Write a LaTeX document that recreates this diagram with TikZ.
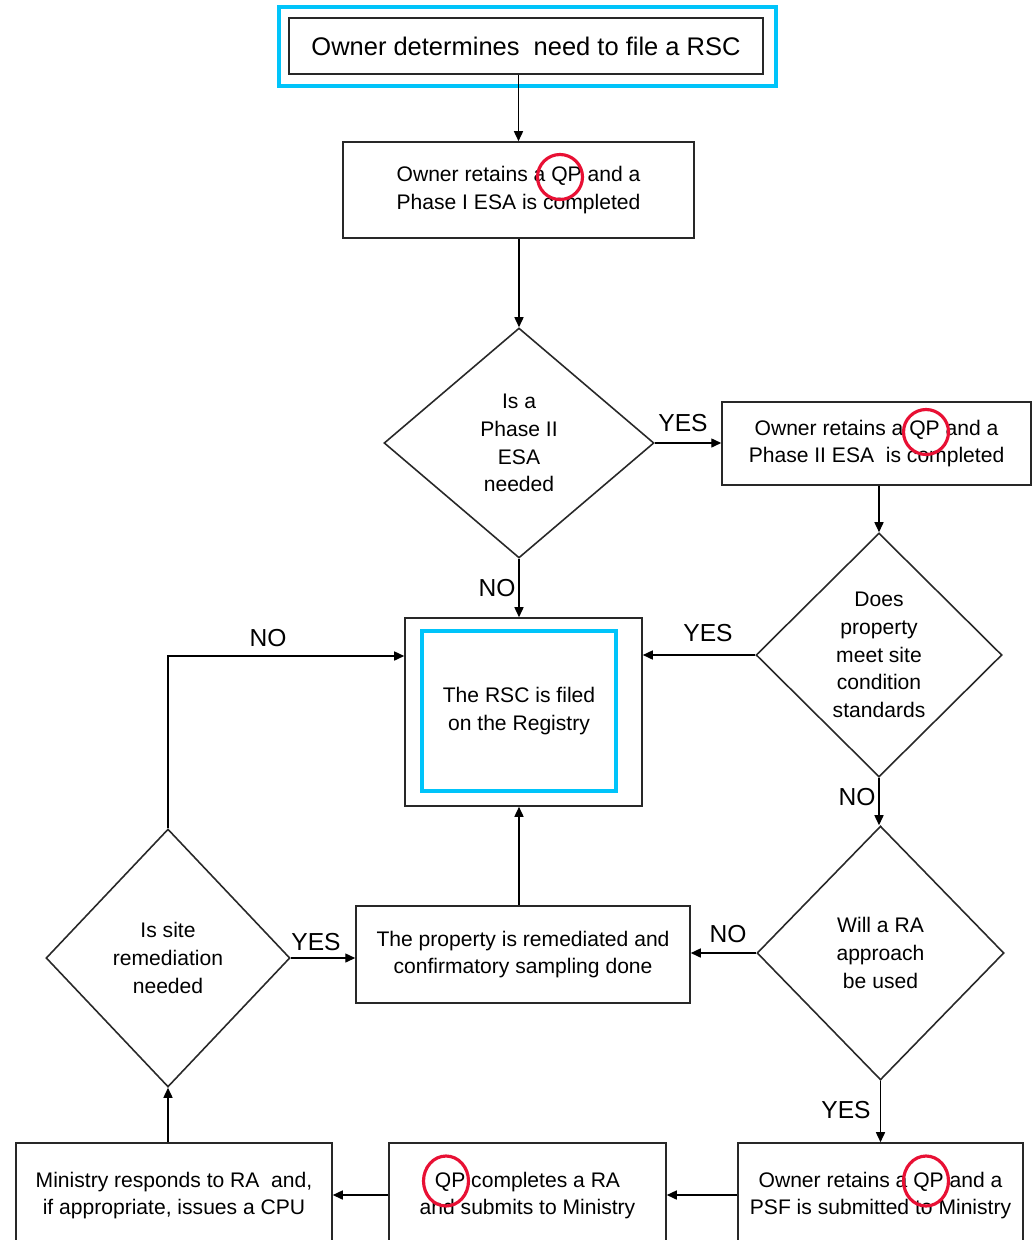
\documentclass[tikz,border=0pt]{standalone}
\usepackage{fontspec}
\setmainfont{Liberation Sans}
\usetikzlibrary{arrows.meta,shapes.geometric}
\definecolor{hlcyan}{RGB}{0,196,250}
\definecolor{hlred}{RGB}{232,16,52}
\definecolor{boxgray}{RGB}{40,40,40}
\begin{document}
\begin{tikzpicture}[x=0.02cm,y=-0.02cm,
  boxnode/.style={draw=boxgray,line width=0.9pt,rectangle,align=center,inner sep=0pt,
     font=\fontsize{12}{15.8}\selectfont},
  decnode/.style={draw=boxgray,line width=0.9pt,diamond,align=center,inner sep=0pt,
     font=\fontsize{12}{15.8}\selectfont},
  hlframe/.style={draw=hlcyan,line width=1.8pt,rectangle,inner sep=0pt},
  qpmark/.style={draw=hlred,line width=1.8pt,circle,inner sep=0pt,minimum size=0.9cm},
  arr/.style={draw=black,line width=0.85pt,-{Triangle[length=2mm,width=1.8mm]}},
  lbl/.style={font=\fontsize{14}{16}\selectfont,inner sep=0pt}]
\clip (0,0) rectangle (1035,1240);
\fill[white] (0,0) rectangle (1035,1240);

% top
\node[hlframe,minimum width=9.94cm,minimum height=1.58cm] (hltop) at (527.5,46.5) {};
\node[boxnode,minimum width=9.48cm,minimum height=1.12cm,font=\fontsize{14.5}{17}\selectfont] (start) at (526,46) {Owner determines\ \ need to file a RSC};

% boxes
\node[boxnode,minimum width=7.02cm,minimum height=1.92cm] (p1) at (518.5,190) {Owner retains a QP and a\\Phase I ESA is completed};
\node[decnode,minimum width=5.4cm,minimum height=4.6cm] (d1) at (519,443) {Is a\\Phase II\\ESA\\needed};
\node[boxnode,minimum width=6.18cm,minimum height=1.66cm] (p2) at (876.5,443.5) {Owner retains a QP and a\\Phase II ESA\ \ is completed};
\node[decnode,minimum width=4.92cm,minimum height=4.88cm] (d2) at (879,655) {Does\\property\\meet site\\condition\\standards};
\node[boxnode,minimum width=4.74cm,minimum height=3.76cm] (rsc) at (523.5,712) {};
\node[hlframe,minimum width=3.88cm,minimum height=3.2cm,align=center,font=\fontsize{12}{15.8}\selectfont] (rschl) at (519,711) {The RSC is filed\\on the Registry};
\node[decnode,minimum width=4.94cm,minimum height=5.08cm] (d3) at (880.5,953) {Will a RA\\approach\\be used};
\node[boxnode,minimum width=6.68cm,minimum height=1.94cm] (rem) at (523,954.5) {The property is remediated and\\confirmatory sampling done};
\node[decnode,minimum width=4.88cm,minimum height=5.16cm] (d4) at (168,958) {Is site\\remediation\\needed};
\node[boxnode,minimum width=5.7cm,minimum height=2.1cm] (psf) at (880.5,1195.5) {Owner retains a QP and a\\PSF is submitted to Ministry};
\node[boxnode,minimum width=5.54cm,minimum height=2.1cm] (ra) at (527.5,1195.5) {QP completes a RA\\and submits to Ministry};
\node[boxnode,minimum width=6.32cm,minimum height=2.1cm] (min) at (174,1195.5) {Ministry responds to RA\ \ and,\\if appropriate, issues a CPU};

% QP highlight circles
\node[qpmark] (qp1) at (560,177) {};
\node[qpmark] (qp2) at (926,432) {};
\node[qpmark,minimum height=1.0cm,ellipse] (qp3) at (926,1181) {};
\node[qpmark,minimum height=1.0cm,ellipse] (qp4) at (446,1181) {};

% connectors
\draw[arr] (start.south -| p1.north) -- (p1.north);
\draw[arr] (p1.south -| d1.north) -- (d1.north);
\draw[arr] (d1.east) -- (d1.east -| p2.west);
\draw[arr] (p2.south -| d2.north) -- (d2.north);
\draw[arr] (d1.south) -- (d1.south |- rsc.north);
\draw[arr] (d2.west) -- (d2.west -| rsc.east);
\draw[arr] (d2.south) -- (d2.south |- d3.north);
\draw[arr] (d3.west) -- (d3.west -| rem.east);
\draw[arr] (rem.north -| d1.south) -- (d1.south |- rsc.south);
\draw[arr] (d4.east) -- (d4.east -| rem.west);
\coordinate (bend) at (168,656);
\draw[arr] (d4.north) -- (d4.north |- bend) -- (bend -| rsc.west);
\draw[arr] (d3.south) -- (d3.south |- psf.north);
\draw[arr] (psf.west |- 0,1195) -- (ra.east |- 0,1195);
\draw[arr] (ra.west |- 0,1195) -- (min.east |- 0,1195);
\draw[arr] (min.north -| d4.south) -- (d4.south);

% labels
\node[lbl] (l1) at (683,423) {YES};
\node[lbl] (l2) at (708,633) {YES};
\node[lbl] (l3) at (497,588) {NO};
\node[lbl] (l4) at (268,638) {NO};
\node[lbl] (l5) at (857,797) {NO};
\node[lbl] (l6) at (728,934) {NO};
\node[lbl] (l7) at (316,942) {YES};
\node[lbl] (l8) at (846,1110) {YES};
\end{tikzpicture}
\end{document}
